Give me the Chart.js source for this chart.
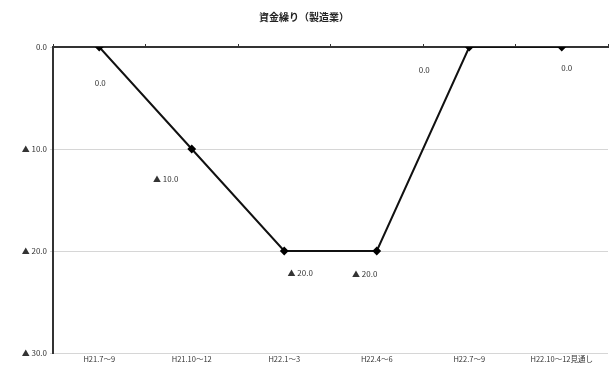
<!DOCTYPE html>
<html>
<head>
<meta charset="utf-8">
<script src="https://cdn.jsdelivr.net/npm/chart.js@4"></script>
<style>
  html, body { margin: 0; padding: 0; background: #fff; overflow: hidden; }
  #wrap { width: 610px; height: 367px; }
  canvas { display: block; }
</style>
</head>
<body>
<div id="wrap"><canvas id="chart" width="610" height="367"></canvas></div>
<script>
const categories = ['H21.7～9', 'H21.10～12', 'H22.1～3', 'H22.4～6', 'H22.7～9', 'H22.10～12見通し'];
const values = [0, -10, -20, -20, 0, 0];
const yTicks = [0, -10, -20, -30];

const FONT = '"Noto Sans CJK JP", "Noto Sans", sans-serif';

// 0.0 / ▲ 10.0 style
function fmt(v) {
  return v < 0 ? '▲ ' + Math.abs(v).toFixed(1) : v.toFixed(1);
}

// label offsets from each point (as placed in the original)
const labelShift = [[1, 36], [-26, 30], [16, 22], [-12, 23], [-45, 23], [5, 21]];

const pointLabels = {
  id: 'pointLabels',
  afterDatasetsDraw(chart) {
    const ctx = chart.ctx;
    const meta = chart.getDatasetMeta(0);
    ctx.save();
    ctx.font = '8px ' + FONT;
    ctx.fillStyle = '#333';
    ctx.textAlign = 'center';
    ctx.textBaseline = 'middle';
    meta.data.forEach((pt, i) => {
      const s = labelShift[i] || [0, 20];
      ctx.fillText(fmt(values[i]), pt.x + s[0], pt.y + s[1]);
    });
    ctx.restore();
  }
};

function noPad(scale) {
  scale.paddingLeft = 0;
  scale.paddingRight = 0;
  scale.paddingTop = 0;
  scale.paddingBottom = 0;
}

new Chart(document.getElementById('chart'), {
  type: 'line',
  data: {
    labels: categories,
    datasets: [{
      data: values,
      borderColor: '#111',
      borderWidth: 2,
      pointStyle: 'rectRot',
      pointRadius: 3,
      pointBackgroundColor: '#000',
      pointBorderColor: '#000',
      tension: 0
    }]
  },
  options: {
    responsive: false,
    animation: false,
    layout: { autoPadding: false, padding: { left: 0, right: 2, top: 0, bottom: 0 } },
    plugins: {
      legend: { display: false },
      tooltip: { enabled: false },
      title: {
        display: true,
        text: '資金繰り（製造業）',
        color: '#222',
        font: { family: FONT, size: 10, weight: 'bold' },
        padding: { top: 11, bottom: 0 }
      }
    },
    scales: {
      x: {
        offset: true,
        grid: { display: false, drawTicks: false },
        border: { display: false },
        ticks: { color: '#333', font: { family: FONT, size: 7.5 }, padding: 2, maxRotation: 0, autoSkip: false },
        afterFit(scale) { scale.height = 14; noPad(scale); }
      },
      x2: {
        type: 'category',
        position: 'top',
        labels: categories,
        offset: true,
        grid: { offset: true, drawOnChartArea: false, drawTicks: true, tickLength: 3, color: '#333', lineWidth: 1 },
        border: { display: true, color: '#333', width: 2 },
        ticks: { display: false },
        afterFit(scale) { scale.height = 47 - 23; noPad(scale); }
      },
      y: {
        min: -30,
        max: 0,
        afterBuildTicks(scale) { scale.ticks = yTicks.map(v => ({ value: v })); },
        grid: { color: '#d6d6d6', lineWidth: 1, drawTicks: true, tickLength: 3 },
        border: { display: true, color: '#333', width: 2 },
        ticks: { color: '#333', font: { family: FONT, size: 8 }, padding: 3, callback: v => fmt(v) },
        afterFit(scale) { scale.width = 53; noPad(scale); }
      }
    }
  },
  plugins: [pointLabels]
});
</script>
</body>
</html>
